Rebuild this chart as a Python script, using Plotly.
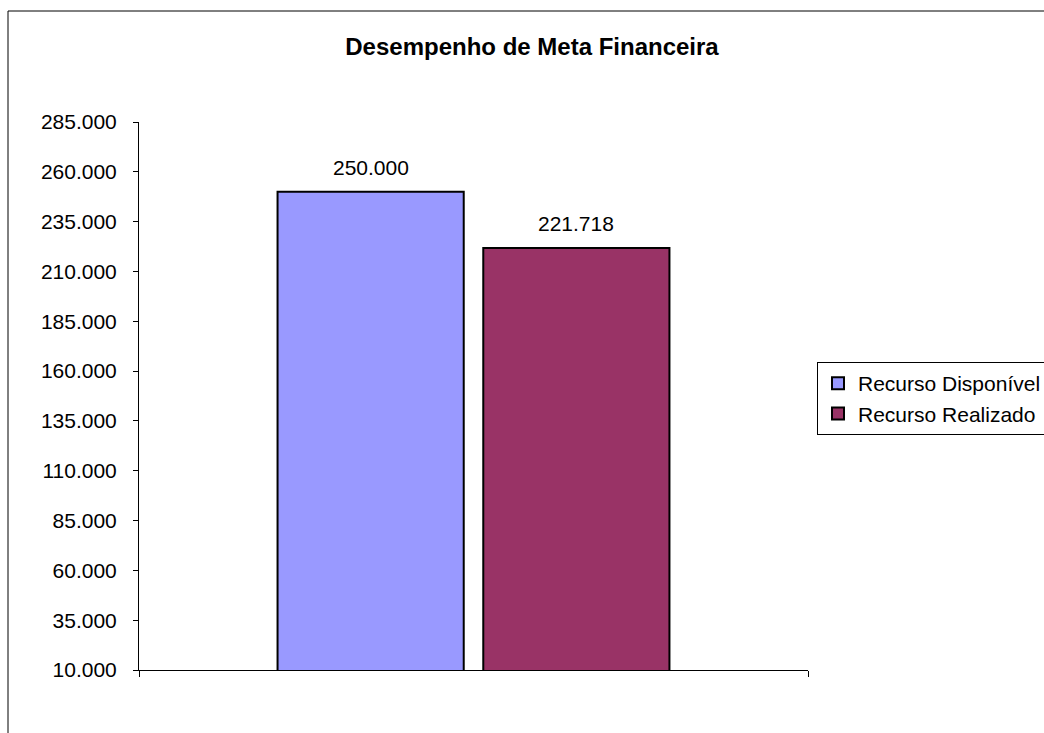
import plotly.graph_objects as go

categories = ["Meta"]
series_names = ["Recurso Disponível", "Recurso Realizado"]
series_values = [[250000], [221718]]
series_colors = ["#9999FF", "#993366"]
y_tickvals = list(range(10000, 285001, 25000))

W, H = 1044, 733
ml, mr, mt, mb = 139, 236, 122, 63
pw, ph = W - ml - mr, H - mt - mb
BARGAP, GROUPGAP = 0.385, 0.095

fig = go.Figure()
n = len(series_names)
slot = (1 - BARGAP) / n
for i, (name, vals, col) in enumerate(zip(series_names, series_values, series_colors)):
    fig.add_trace(go.Bar(
        x=[0], y=vals, name=name,
        marker=dict(color=col, line=dict(color="black", width=2)),
    ))
    xc = -(1 - BARGAP) / 2 + slot * (i + 0.5)
    for v in vals:
        fig.add_annotation(x=xc, y=v, xref="x", yref="y", text=f"{v:,.0f}".replace(",", "."),
                           showarrow=False, yanchor="bottom", yshift=11,
                           font=dict(size=21, color="black"))

# outer chart border (left & top visible, rest beyond the image)
fig.add_shape(type="rect", xref="paper", yref="paper",
              x0=(8 - ml) / pw, x1=(W + 40 - ml) / pw,
              y0=-(mb + 40) / ph, y1=(H - 11 - mb) / ph,
              line=dict(color="black", width=1), layer="below")

fig.update_layout(
    width=W, height=H,
    margin=dict(l=ml, r=mr, t=mt, b=mb, autoexpand=False),
    paper_bgcolor="white", plot_bgcolor="white",
    font=dict(family="Liberation Sans, Arial, sans-serif", size=21, color="black"),
    separators=",.",
    barmode="group", bargap=BARGAP, bargroupgap=GROUPGAP,
    title=dict(text="<b>Desempenho de Meta Financeira</b>", x=532 / W, xanchor="center",
               y=1 - 47 / H, yanchor="middle", xref="container", yref="container",
               font=dict(size=24, color="black")),
    showlegend=True,
    legend=dict(x=(817 - ml) / pw, xanchor="left", y=(670 - 362) / ph, yanchor="top",
                bordercolor="black", borderwidth=1, bgcolor="white",
                font=dict(size=21, color="black"), tracegroupgap=0),
    xaxis=dict(range=[-0.5, 0.5], tickvals=[-0.5, 0.5], showticklabels=False,
               showline=True, linecolor="black", linewidth=1, ticks="outside",
               ticklen=6, tickcolor="black", showgrid=False, zeroline=False, fixedrange=True),
    yaxis=dict(range=[10000, 285000], tickvals=y_tickvals, tickformat=",.0f",
               showline=True, linecolor="black", linewidth=1, ticks="outside",
               ticklen=5, tickcolor="black", showgrid=False, zeroline=False,
               ticklabelstandoff=12),
)
fig.write_html("out.html", config={"displayModeBar": False},
               post_script="document.body.style.margin='0';document.body.style.overflow='hidden';")
